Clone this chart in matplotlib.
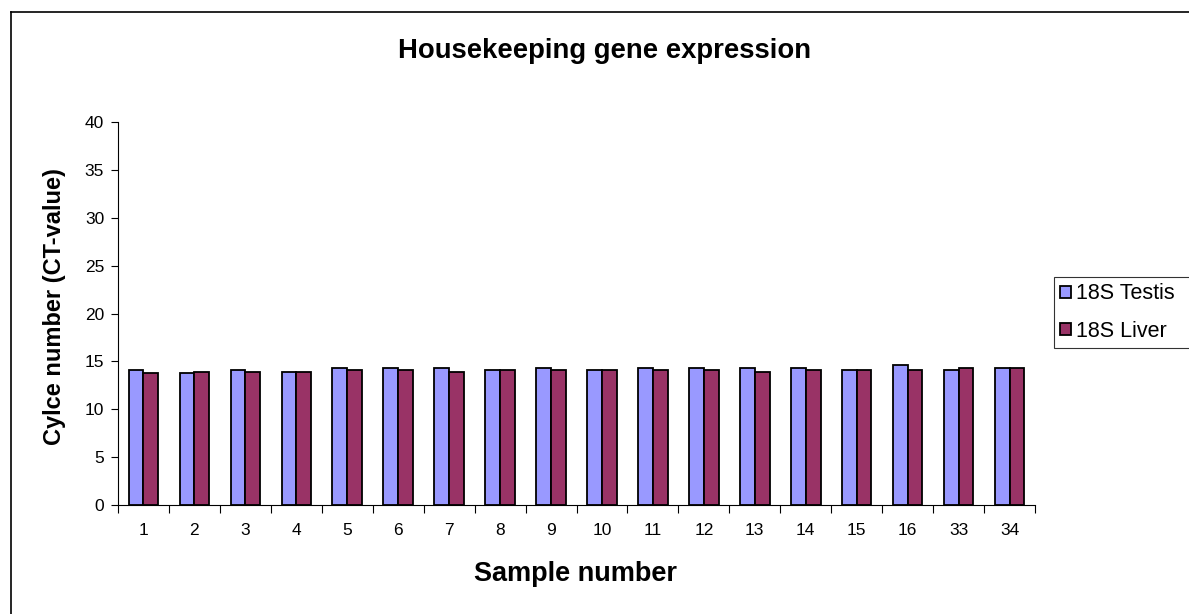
import numpy as np
from matplotlib import pyplot as plt
from matplotlib.lines import Line2D

plt.rcParams['font.family'] = ['Liberation Sans', 'DejaVu Sans']

# Ct values per sample
samples = ['1', '2', '3', '4', '5', '6', '7', '8', '9', '10',
           '11', '12', '13', '14', '15', '16', '33', '34']
testis = [14.1, 13.75, 14.1, 13.9, 14.27, 14.27, 14.27, 14.1, 14.27, 14.1,
          14.27, 14.27, 14.27, 14.27, 14.1, 14.66, 14.1, 14.27]
liver = [13.75, 13.9, 13.9, 13.9, 14.1, 14.1, 13.9, 14.1, 14.1, 14.1,
         14.1, 14.1, 13.9, 14.1, 14.1, 14.1, 14.27, 14.27]

W, H = 1189, 614
fig = plt.figure(figsize=(W / 100, H / 100), dpi=100)
ax = fig.add_axes([118 / W, 1 - 505 / H, (1035 - 118) / W, (505 - 122) / H])

x = np.arange(len(samples))
bw = 0.29
ax.bar(x - bw / 2, testis, bw, color='#9999FF', edgecolor='black', linewidth=1.3,
       label='18S Testis', zorder=3)
ax.bar(x + bw / 2, liver, bw, color='#993366', edgecolor='black', linewidth=1.3,
       label='18S Liver', zorder=3)

ax.set_xlim(-0.5, len(samples) - 0.5)
ax.set_ylim(0, 40)
ax.set_yticks(range(0, 41, 5))
ax.set_xticks(x)
ax.set_xticklabels(samples)
ax.set_xticks(np.arange(len(samples) + 1) - 0.5, minor=True)
ax.tick_params(axis='x', which='major', length=0, labelsize=12.5, pad=13)
ax.tick_params(axis='x', which='minor', length=6, width=0.8)
ax.tick_params(axis='y', length=5, width=0.8, labelsize=12.5, pad=5)

for s in ['top', 'right']:
    ax.spines[s].set_visible(False)
for s in ['left', 'bottom']:
    ax.spines[s].set_linewidth(0.8)

ax.set_ylabel('Cylce number (CT-value)', fontsize=17, fontweight='bold')
ax.yaxis.set_label_coords(66 / W, 0.5, transform=fig.transFigure)
ax.set_xlabel('Sample number', fontsize=19.5, fontweight='bold')
ax.xaxis.set_label_coords(576 / W, 1 - 561 / H, transform=fig.transFigure)
fig.text(605 / W, 1 - 58 / H, 'Housekeeping gene expression', ha='center', va='baseline',
         fontsize=19.8, fontweight='bold')

# legend box runs off the right edge of the figure
leg = fig.legend(loc='upper left', mode='expand',
                 bbox_to_anchor=(1054 / W, 1 - 349 / H, 152 / W, 72 / H), borderaxespad=0,
                 frameon=True, fancybox=False, edgecolor='black', fontsize=15.5,
                 handlelength=0.48, handleheight=0.48, handletextpad=0.25, labelspacing=0.75,
                 borderpad=0.3)
leg.get_frame().set_linewidth(0.8)

# outer chart border
fig.add_artist(Line2D([11 / W, 11 / W], [0, 1 - 12 / H], color='black', lw=1.2))
fig.add_artist(Line2D([11 / W, 1], [1 - 12 / H, 1 - 12 / H], color='black', lw=1.2))

fig.savefig('out.png', dpi=100)
